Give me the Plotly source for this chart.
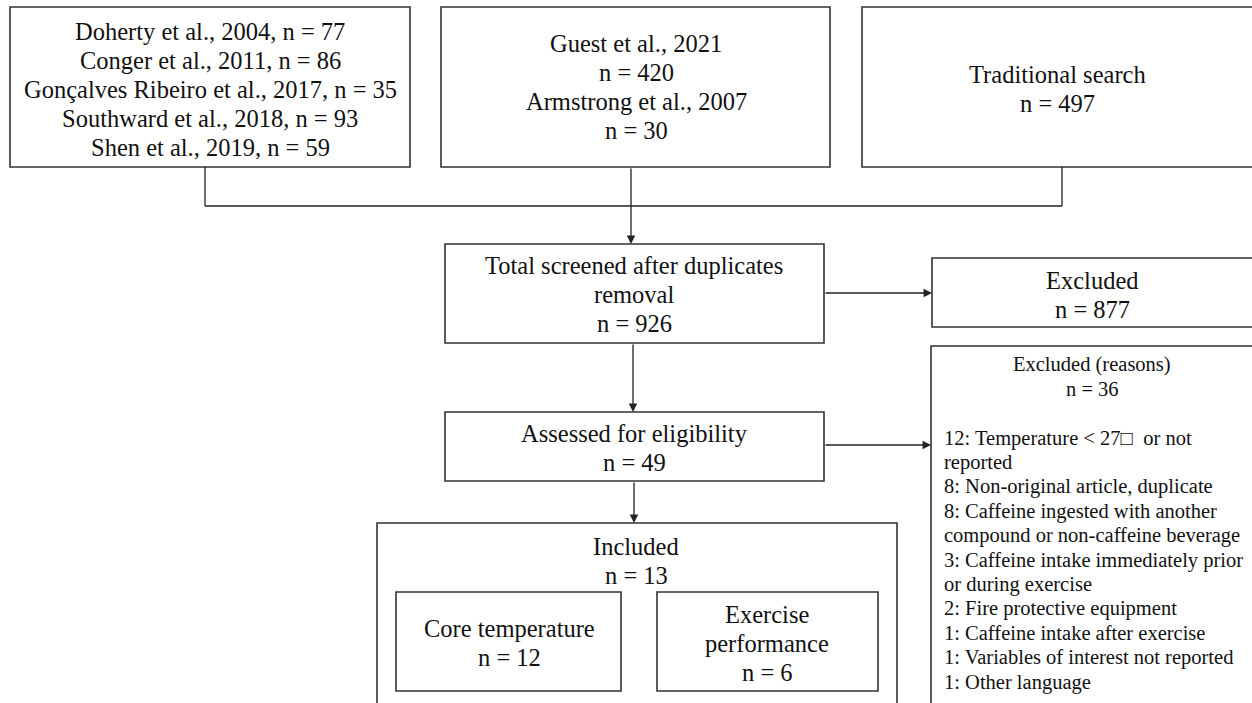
import plotly.graph_objects as go

# ---- content ----
source1_lines = ["Doherty et al., 2004, n = 77", "Conger et al., 2011, n = 86",
                 "Gonçalves Ribeiro et al., 2017, n = 35", "Southward et al., 2018, n = 93",
                 "Shen et al., 2019, n = 59"]
source2_lines = ["Guest et al., 2021", "n = 420", "Armstrong et al., 2007", "n = 30"]
source3_lines = ["Traditional search", "n = 497"]
screened_lines = ["Total screened after duplicates", "removal", "n = 926"]
excluded_lines = ["Excluded", "n = 877"]
assessed_lines = ["Assessed for eligibility", "n = 49"]
included_lines = ["Included", "n = 13"]
core_lines = ["Core temperature", "n = 12"]
exercise_lines = ["Exercise", "performance", "n = 6"]
reasons_title = ["Excluded (reasons)", "n = 36"]
reasons_lines = ["12: Temperature < 27□  or not", "reported",
                 "8: Non-original article, duplicate",
                 "8: Caffeine ingested with another",
                 "compound or non-caffeine beverage",
                 "3: Caffeine intake immediately prior",
                 "or during exercise",
                 "2: Fire protective equipment",
                 "1: Caffeine intake after exercise",
                 "1: Variables of interest not reported",
                 "1: Other language"]

# ---- layout geometry (pixels) ----
W, H = 1252, 703
FONT = "Liberation Serif, Times New Roman, serif"
LINE_COL = "#222222"
BOX_COL = "#333333"

boxes = {
    "s1": (10, 7, 410, 167),
    "s2": (441, 7, 830, 167),
    "s3": (862, 7, 1270, 167),
    "scr": (445, 244, 824, 343),
    "exc": (932, 258, 1270, 327),
    "ass": (445, 412, 824, 481),
    "rea": (931, 346, 1270, 720),
    "inc": (377, 523, 897, 720),
    "core": (396, 592, 621, 691),
    "exe": (657, 592, 878, 691),
}

fig = go.Figure()
fig.add_trace(go.Scatter(x=[0, W], y=[0, H], mode="markers",
                         marker=dict(opacity=0), hoverinfo="skip", showlegend=False))

shapes = []
for k, (x0, y0, x1, y1) in boxes.items():
    shapes.append(dict(type="rect", xref="x", yref="y", x0=x0, y0=y0, x1=x1, y1=y1,
                       line=dict(color=BOX_COL, width=1.6), fillcolor="rgba(0,0,0,0)"))

# connector from the three sources
conn_y = 206
for xx in (205, 1062):
    shapes.append(dict(type="line", xref="x", yref="y", x0=xx, y0=167, x1=xx, y1=conn_y,
                       line=dict(color=LINE_COL, width=1.3)))
shapes.append(dict(type="line", xref="x", yref="y", x0=205, y0=conn_y, x1=1062, y1=conn_y,
                   line=dict(color=LINE_COL, width=1.3)))

annotations = []

def arrow(x0, y0, x1, y1):
    annotations.append(dict(x=x1, y=y1, ax=x0, ay=y0, xref="x", yref="y", axref="x", ayref="y",
                            text="", showarrow=True, arrowhead=2, arrowsize=1.3,
                            arrowwidth=1.3, arrowcolor=LINE_COL, standoff=0))

arrow(631, 167, 631, 244)
arrow(633, 343, 633, 412)
arrow(824, 293, 932, 293)
arrow(824, 445, 931, 445)
arrow(634, 481, 634, 523)

def text_block(lines, cx, cy, size, spacing):
    n = len(lines)
    for i, t in enumerate(lines):
        yy = cy + (i - (n - 1) / 2) * spacing
        annotations.append(dict(x=cx, y=yy, xref="x", yref="y", text=t, showarrow=False,
                                xanchor="center", yanchor="middle",
                                font=dict(family=FONT, size=size, color="#111111")))

BIG = 24.5
SP = 29
text_block(source1_lines, 210, 89, BIG, SP)
text_block(source2_lines, 636, 87, BIG, SP)
text_block(source3_lines, 1057, 89, BIG, SP)
text_block(screened_lines, 634, 294, BIG, SP)
text_block(excluded_lines, 1092, 295, BIG, SP)
text_block(assessed_lines, 634, 448, BIG, SP)
text_block(included_lines, 636, 561, BIG, SP)
text_block(core_lines, 509, 643, BIG, SP)
text_block(exercise_lines, 767, 643, BIG, SP)

SMALL = 20.5
SSP = 24.4
text_block(reasons_title, 1092, 377, SMALL, SSP)
for i, t in enumerate(reasons_lines):
    annotations.append(dict(x=942, y=438 + i * SSP, xref="x", yref="y", text=t, showarrow=False,
                            xanchor="left", yanchor="middle",
                            font=dict(family=FONT, size=SMALL, color="#111111")))

fig.update_layout(
    width=W, height=H, margin=dict(l=0, r=0, t=0, b=0),
    paper_bgcolor="white", plot_bgcolor="white",
    xaxis=dict(range=[0, W], visible=False, fixedrange=True),
    yaxis=dict(range=[H, 0], visible=False, fixedrange=True),
    shapes=shapes, annotations=annotations, showlegend=False,
)

fig.write_html("out.html", config={"displayModeBar": False},
               post_script="document.body.style.margin='0';document.body.style.overflow='hidden';")
